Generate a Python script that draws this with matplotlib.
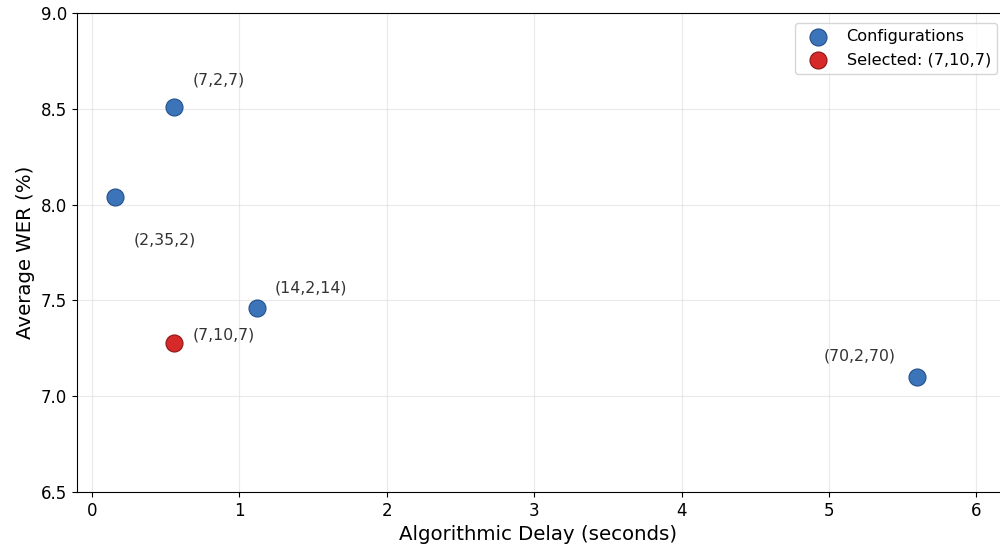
import numpy as np
import matplotlib
matplotlib.use("Agg")
import matplotlib.pyplot as plt

# Data
labels = ["(2,35,2)", "(7,2,7)", "(14,2,14)", "(70,2,70)"]
delay = [0.16, 0.56, 1.12, 5.60]
wer = [8.04, 8.51, 7.46, 7.10]

sel_label = "(7,10,7)"
sel_delay = 0.56
sel_wer = 7.28

# text offsets (pixels) and alignment for each label
offsets = [(18, -43, "left"), (18, 27, "left"), (18, 20, "left"), (-22, 21, "right")]

fig = plt.figure(figsize=(10, 5.5), dpi=100)
ax = fig.add_axes([0.077, 58 / 550, 0.923, 479 / 550])

ax.scatter(delay, wer, s=150, color="#3b74b9", edgecolor="#24508a", linewidth=0.8,
           label="Configurations", zorder=3)
ax.scatter([sel_delay], [sel_wer], s=150, color="#d62a2a", edgecolor="#8f1414", linewidth=0.8,
           label="Selected: " + sel_label, zorder=3)

for lab, x, y, (dx, dy, ha) in zip(labels, delay, wer, offsets):
    ax.annotate(lab, (x, y), xytext=(dx, dy), textcoords="offset pixels",
                ha=ha, va="center", fontsize=11.3, color="#333333")
ax.annotate(sel_label, (sel_delay, sel_wer), xytext=(18, 8), textcoords="offset pixels",
            ha="left", va="center", fontsize=11.3, color="#333333")

ax.set_xlim(-0.1, 6.16)
ax.set_ylim(6.5, 9.0)
ax.set_xticks(range(0, 7))
ax.set_yticks(np.arange(6.5, 9.01, 0.5))
ax.tick_params(labelsize=12)
ax.grid(True, color="#dddddd", alpha=0.6, linewidth=0.8)
ax.set_axisbelow(True)
ax.spines["right"].set_visible(False)

ax.set_xlabel("Algorithmic Delay (seconds)", fontsize=14.2)
ax.set_ylabel("Average WER (%)", fontsize=14.2)

ax.legend(loc="upper right", fontsize=11.6, borderaxespad=0.4, bbox_to_anchor=(1.004, 0.993))

fig.savefig("out.png", dpi=100)
